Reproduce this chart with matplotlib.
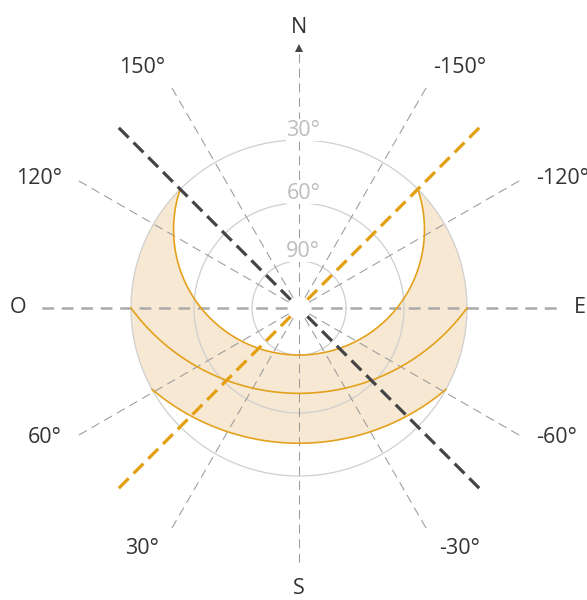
import numpy as np
import matplotlib.pyplot as plt

plt.rcParams['font.family'] = ['Open Sans', 'DejaVu Sans']
plt.rcParams['lines.scale_dashes'] = False

# azimuth grid, measured from south, positive towards west
grid_az = [0, 30, 60, 90, 120, 150, 180, -150, -120, -90, -60, -30]
az_labels = {30: '30°', 60: '60°', 120: '120°', 150: '150°',
             -30: '-30°', -60: '-60°', -120: '-120°', -150: '-150°'}
cardinal = {0: 'S', 90: 'O', -90: 'E', 180: 'N'}

# altitude rings (radius in units of the horizon ring)
ring_labels = ['30°', '60°', '90°']
ring_r = [1.0, 0.625, 0.28]

# sun paths: azimuth where each path meets the horizon, radius of the noon point
path_names = ['summer', 'equinox', 'winter']
path_rise_az = [135, 90, 61]
path_noon_r = [0.28, 0.508, 0.805]

# sunrise / sunset directions at the solstices
dark_az = 135     # NW - SE
orange_az = -135  # NE - SW

ORANGE = '#e3a11c'
GRID = '#9a9a9a'
TEXT = '#333333'

R_LINE = 1.536
R_GAP = 0.07


def direction(a):
    a = np.radians(a)
    return np.array([-np.sin(a), -np.cos(a)])


def path_circle(rise_az, noon_r):
    a = np.radians(rise_az)
    c = (1 - noon_r ** 2) / (2 * (noon_r - np.cos(a)))
    R = c + noon_r
    th_end = np.arctan2(np.sin(a), c + np.cos(a))
    return c, R, th_end


def arc_points(c, R, th_from, th_to, n=200):
    th = np.linspace(th_from, th_to, n)
    return -R * np.sin(th), c - R * np.cos(th)


def outer_points(a_from, a_to, n=100):
    t = np.radians(np.linspace(a_from, a_to, n))
    return np.cos(t), np.sin(t)


fig = plt.figure(figsize=(5.87, 6.0), dpi=100)
ax = fig.add_axes([0, 0, 1, 1])
ax.set_xlim(-299 / 168, 288 / 168)
ax.set_ylim(-292 / 168, 308 / 168)
ax.axis('off')

# band between the summer and winter paths
cs, Rs, ths = path_circle(path_rise_az[0], path_noon_r[0])
cw, Rw, thw = path_circle(path_rise_az[-1], path_noon_r[-1])
aw = np.radians(path_rise_az[-1])
asum = np.radians(path_rise_az[0])
w_east = np.degrees(np.arctan2(-np.cos(aw), np.sin(aw)))
s_east = np.degrees(np.arctan2(-np.cos(asum), np.sin(asum)))
s_west = np.degrees(np.arctan2(-np.cos(asum), -np.sin(asum)))
w_west = np.degrees(np.arctan2(-np.cos(aw), -np.sin(aw))) % 360

parts = [arc_points(cw, Rw, thw, -thw),
         outer_points(w_east, s_east),
         arc_points(cs, Rs, -ths, ths),
         outer_points(s_west, w_west)]
bx = np.concatenate([p[0] for p in parts])
by = np.concatenate([p[1] for p in parts])
ax.fill(bx, by, color='#f7e8d3', lw=0, zorder=1)

# altitude rings
t = np.linspace(0, 2 * np.pi, 400)
for r, lab in zip(ring_r, ring_labels):
    ax.plot(r * np.cos(t), r * np.sin(t), color='#cfcfcf', lw=0.9, zorder=2)
    ax.text(0.025, r + 0.058, lab, color='#bdbdbd', fontsize=15.5,
            ha='center', va='center', zorder=4,
            bbox=dict(facecolor='white', edgecolor='none', pad=0.5))

# azimuth grid
for a in grid_az:
    d = direction(a)
    if a in (90, -90):
        style = dict(color='#aaaaaa', lw=1.8, dashes=(8.5, 5.5))
    else:
        style = dict(color=GRID, lw=0.75, dashes=(6.5, 4))
    end = R_LINE * d
    ax.plot([R_GAP * d[0], end[0]], [R_GAP * d[1], end[1]], zorder=3, **style)
    if a in az_labels:
        sx, sy = np.sign(d[0]), np.sign(d[1])
        steep = abs(d[1]) > 0.7
        if steep:
            gx = (0.03 if sy > 0 else 0.065) * sx
            gy = 0.1 * sy
        else:
            gx, gy = 0.08 * sx, 0.0
        ax.text(end[0] + gx, end[1] + gy, az_labels[a], color=TEXT,
                fontsize=15.5, ha='right' if sx < 0 else 'left', va='center')
    if a in cardinal:
        p = 1.67 * d
        ax.text(p[0], p[1], cardinal[a], color=TEXT, fontsize=15.5,
                ha='center', va='center')

# north arrow
n_tip = direction(180) * 1.548
ax.plot(n_tip[0], n_tip[1], marker='^', ms=5.5, color='#444444', mew=0, zorder=5)

# sun paths
for A, rn in zip(path_rise_az, path_noon_r):
    c, R, th = path_circle(A, rn)
    x, y = arc_points(c, R, th, -th)
    ax.plot(x, y, color=ORANGE, lw=1.2, zorder=5)

# solstice sunrise / sunset directions
for a, col in [(dark_az, '#444444'), (orange_az, '#e39e12')]:
    for s in (a, a + 180):
        d = direction(s)
        ax.plot([R_GAP * d[0], R_LINE * d[0]], [R_GAP * d[1], R_LINE * d[1]],
                color=col, lw=2.3, dashes=(10, 5), zorder=6,
                solid_capstyle='butt', dash_capstyle='butt')

fig.savefig('out.png', dpi=100)
